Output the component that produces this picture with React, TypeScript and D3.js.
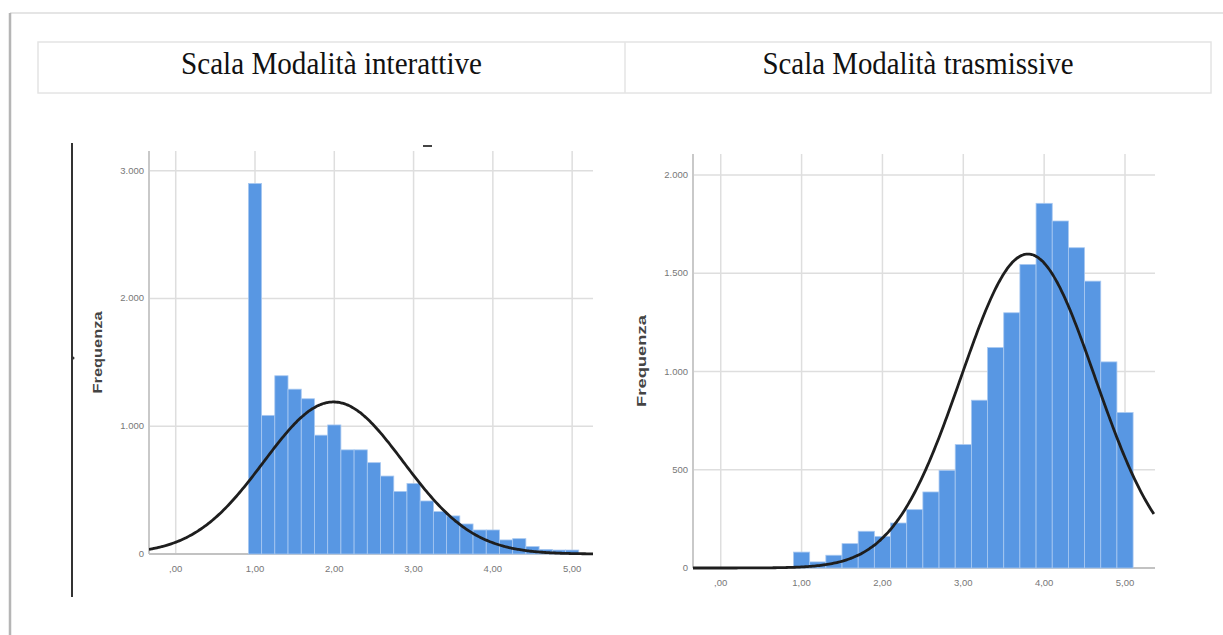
import React from 'react';
import * as d3 from 'd3';

const width = 1223;
const height = 635;

// column titles of the header table
const titles = ['Scala Modalità interattive', 'Scala Modalità trasmissive'];

// shared x ticks
const xTicks = [0, 1, 2, 3, 4, 5];

// left histogram: bins of 1/6
const leftBinWidth = 1 / 6;
const leftCenters = [1, 1.167, 1.333, 1.5, 1.667, 1.833, 2, 2.167, 2.333, 2.5, 2.667, 2.833, 3,
    3.167, 3.333, 3.5, 3.667, 3.833, 4, 4.167, 4.333, 4.5, 4.667, 4.833, 5];
const leftCounts = [2900, 1085, 1395, 1290, 1215, 930, 1010, 815, 815, 715, 610, 490, 552,
    415, 332, 298, 235, 188, 188, 110, 120, 58, 36, 31, 31];
const leftYTicks = [0, 1000, 2000, 3000];
const leftFit = {mean: 1.99, sd: 0.88, peak: 1190};

// right histogram: bins of 0.2
const rightBinWidth = 0.2;
const rightCenters = [1, 1.2, 1.4, 1.6, 1.8, 2, 2.2, 2.4, 2.6, 2.8, 3, 3.2, 3.4, 3.6, 3.8,
    4, 4.2, 4.4, 4.6, 4.8, 5];
const rightCounts = [81, 31, 65, 124, 187, 161, 229, 297, 387, 497, 628, 854, 1122, 1299, 1545,
    1856, 1766, 1630, 1460, 1049, 791];
const rightYTicks = [0, 500, 1000, 1500, 2000];
const rightFit = {mean: 3.80, sd: 0.83, peak: 1598};

const itLocale = d3.formatLocale({decimal: ',', thousands: '.', grouping: [3], currency: ['€', '']});
const fmtX = (v) => { const s = itLocale.format('.2f')(v); return s.startsWith('0') ? s.slice(1) : s; };
const fmtY = itLocale.format(',d');

const barColor = '#5897e3';
const gridColor = '#dedede';

function Histogram({x0, x1, y0, y1, xDomain, yDomain, centers, counts, binWidth, yTicks, fit,
                    labelX, labelLen, labelWeight}) {
    const xScale = d3.scaleLinear(xDomain, [x0, x1]);
    const yScale = d3.scaleLinear(yDomain, [y0, y1]);
    const bars = centers.map((c, i) => ({c, n: counts[i]}));
    const curvePts = d3.range(xDomain[0], xDomain[1] + 0.001, 0.02).map(v =>
        [v, fit.peak * Math.exp(-((v - fit.mean) ** 2) / (2 * fit.sd * fit.sd))]);
    const line = d3.line().x(d => xScale(d[0])).y(d => yScale(d[1])).curve(d3.curveBasis);
    const midY = (y0 + y1) / 2;

    return (
        <g>
            {xTicks.map(t => (
                <line key={'vx' + t} x1={xScale(t)} x2={xScale(t)} y1={y1} y2={y0}
                      stroke={gridColor} strokeWidth={1.5}/>
            ))}
            {yTicks.filter(t => t > 0).map(t => (
                <line key={'hy' + t} x1={x0} x2={x1} y1={yScale(t)} y2={yScale(t)}
                      stroke={gridColor} strokeWidth={1.5}/>
            ))}
            <line x1={x0} x2={x0} y1={y1} y2={y0} stroke="#c9c9c9" strokeWidth={2}/>
            <line x1={x0} x2={x1} y1={y0} y2={y0} stroke="#c2c2c2" strokeWidth={2}/>
            {bars.map((d, i) => (
                <rect key={i}
                      x={xScale(d.c - binWidth / 2)}
                      width={xScale(d.c + binWidth / 2) - xScale(d.c - binWidth / 2)}
                      y={yScale(d.n)}
                      height={yScale(0) - yScale(d.n)}
                      fill={barColor} stroke="#a9c9f1" strokeWidth={0.8}/>
            ))}
            <clipPath id={'clip' + x0}>
                <rect x={x0} y={y1 - 5} width={x1 - x0} height={y0 - y1 + 10}/>
            </clipPath>
            <path d={line(curvePts)} fill="none" stroke="#1e1e1e" strokeWidth={2.8}
                  clipPath={`url(#clip${x0})`}/>
            {yTicks.map(t => (
                <text key={'ty' + t} x={x0 - 5} y={yScale(t) + 3} textAnchor="end"
                      fontFamily="Liberation Sans, Arial" fontSize={9.5} fill="#777">{fmtY(t)}</text>
            ))}
            {xTicks.map(t => (
                <text key={'tx' + t} x={xScale(t)} y={y0 + 18} textAnchor="middle"
                      fontFamily="Liberation Sans, Arial" fontSize={9.5} fill="#777">{fmtX(t)}</text>
            ))}
            <text transform={`translate(${labelX},${midY}) rotate(-90)`} textAnchor="middle"
                  dy="0.35em" fontFamily="Liberation Sans, Arial" fontSize={12.5}
                  fontWeight={labelWeight} fill="#444"
                  textLength={labelLen} lengthAdjust="spacingAndGlyphs">Frequenza</text>
        </g>
    );
}

export default function App() {
    const tableX = [38, 625, 1211];
    const tableTop = 42;
    const tableBottom = 93;
    const baseline = 74;
    return (
        <div style={{position: 'absolute', left: 0, top: 0}}>
            <svg width={width} height={height} viewBox={`0 0 ${width} ${height}`}
                 style={{display: 'block', background: '#fff'}}>
                {/* page frame */}
                <line x1={10} x2={width} y1={13} y2={13} stroke="#dcdcdc" strokeWidth={1.5}/>
                <line x1={10} x2={10} y1={13} y2={height} stroke="#b5b5b5" strokeWidth={2.5}/>

                {/* header table */}
                <rect x={tableX[0]} y={tableTop} width={tableX[2] - tableX[0]} height={tableBottom - tableTop}
                      fill="none" stroke="#e4e4e4" strokeWidth={1.5}/>
                <line x1={tableX[1]} x2={tableX[1]} y1={tableTop} y2={tableBottom} stroke="#e4e4e4" strokeWidth={1.5}/>
                {titles.map((t, i) => (
                    <text key={t} transform={`translate(${(tableX[i] + tableX[i + 1]) / 2},${baseline}) scale(1,1.12)`}
                          textAnchor="middle"
                          fontFamily="Liberation Serif, Times New Roman" fontSize={29} fill="#111"
                          textLength={i === 0 ? 301 : 311} lengthAdjust="spacingAndGlyphs">{t}</text>
                ))}

                {/* left frame line of the pasted chart */}
                <line x1={72} x2={72} y1={143} y2={597} stroke="#333" strokeWidth={2}/>
                <circle cx={73} cy={358} r={1.5} fill="#333"/>
                <line x1={423} x2={432} y1={146} y2={146} stroke="#444" strokeWidth={2}/>

                <Histogram x0={149} x1={593} y0={554} y1={151}
                           xDomain={[-0.337, 5.263]} yDomain={[0, 3154]}
                           centers={leftCenters} counts={leftCounts} binWidth={leftBinWidth}
                           yTicks={leftYTicks} fit={leftFit}
                           labelX={98} labelLen={82} labelWeight={600}/>
                <Histogram x0={693} x1={1155} y0={568} y1={154}
                           xDomain={[-0.343, 5.371]} yDomain={[0, 2107]}
                           centers={rightCenters} counts={rightCounts} binWidth={rightBinWidth}
                           yTicks={rightYTicks} fit={rightFit}
                           labelX={642} labelLen={92} labelWeight={700}/>
            </svg>
        </div>
    );
}
